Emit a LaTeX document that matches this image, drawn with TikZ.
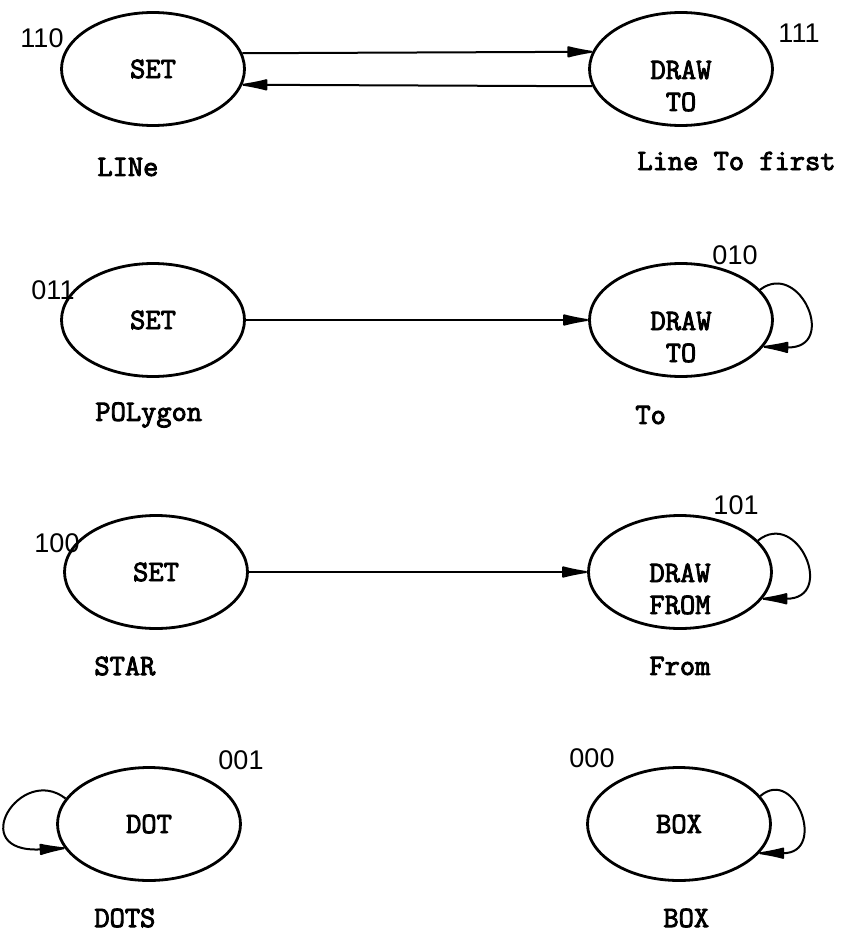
\documentclass[tikz,border=0pt]{standalone}
\usepackage{fontspec}
\setsansfont{Liberation Sans}
\newfontfamily\typefont[FakeBold=3]{Latin Modern Mono}
\usepackage{tikz}
\usetikzlibrary{arrows.meta,shapes.geometric,positioning}
\newcommand{\twoline}[2]{\raisebox{-5pt}[0pt][0pt]{\begin{tabular}[t]{@{}c@{}}#1\\#2\end{tabular}}}

\begin{document}
\begin{tikzpicture}[x=0.5pt, y=-0.5pt,
    gstate/.style={ellipse, draw, line width=1.4pt, minimum width=91.5pt,
        minimum height=56.5pt, inner sep=0pt,
        font=\typefont\fontsize{14.8}{16}\selectfont},
    caption/.style={anchor=west, inner sep=0pt,
        font=\typefont\fontsize{14.8}{16}\selectfont},
    code/.style={inner sep=0pt, font=\sffamily\fontsize{13.5}{15}\selectfont},
    arr/.style={-{Latex[round, length=16pt, width=6pt]}, line width=1pt}
]
    \useasboundingbox (0,0) rectangle (846,941);

    \node[gstate] (set1) at (153,69) {SET};
    \node[gstate] (draw1) at (681,69) {\twoline{DRAW}{TO}};
    \node[gstate] (set2) at (153,320) {SET};
    \node[gstate] (draw2) at (681,320) {\twoline{DRAW}{TO}};
    \node[gstate] (set3) at (156,572) {SET};
    \node[gstate] (draw3) at (680,572) {\twoline{DRAW}{FROM}};
    \node[gstate] (dot) at (149,824) {DOT};
    \node[gstate] (box) at (679,824) {BOX};

    \draw[arr] (set1.10.3) -- (draw1.169.7);
    \draw[arr] (draw1.-169.7) -- (set1.-10.3);
    \draw[arr] (set2) -- (draw2);
    \draw[arr] (set3) -- (draw3);

    \draw[arr] (draw2.21) .. controls +(40,-30) and +(75,2) .. (draw2.-18);
    \draw[arr] (draw3.22) .. controls +(40,-32) and +(74,0) .. (draw3.-18);
    \draw[arr] (dot.163) .. controls +(-45,-35) and +(-100,5) .. (dot.-164);
    \draw[arr] (box.19) .. controls +(35,-30) and +(68,0) .. (box.-20);

    \node[code] (c110) at (42,38) {110};
    \node[code] (c111) at (799,33) {111};
    \node[code] (c011) at (53,290) {011};
    \node[code] (c010) at (735,255) {010};
    \node[code] (c100) at (57,543) {100};
    \node[code] (c101) at (736,505) {101};
    \node[code] (c001) at (241,760) {001};
    \node[code] (c000) at (592,758) {000};

    \node[caption] (line) at (97,167) {LINe};
    \node[caption] (linefirst) at (637,161) {Line To first};
    \node[caption] (poly) at (95,415) {POLygon};
    \node[caption] (to) at (635,415) {To};
    \node[caption] (star) at (94,666) {STAR};
    \node[caption] (from) at (649,666) {From};
    \node[caption] (dots) at (94,918) {DOTS};
    \node[caption] (boxname) at (663,918) {BOX};
\end{tikzpicture}
\end{document}
